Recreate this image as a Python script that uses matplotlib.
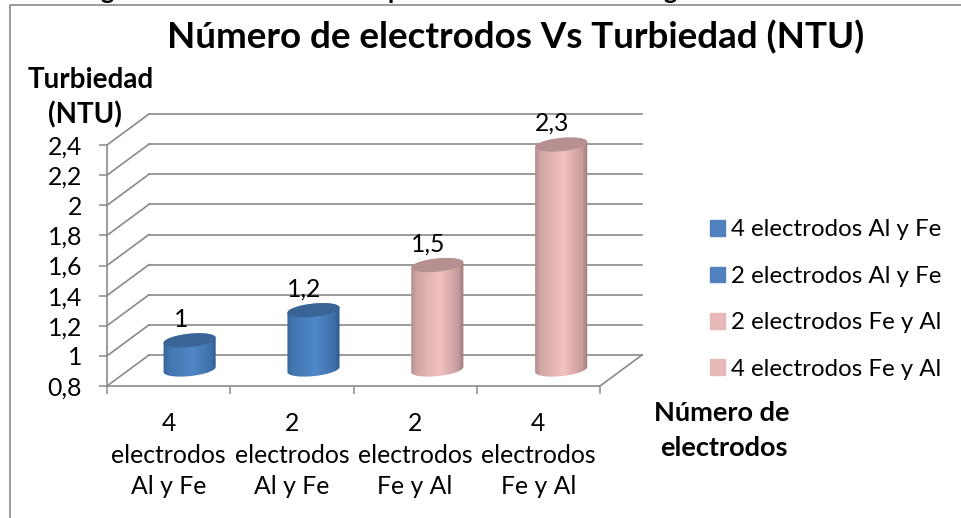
import numpy as np
import matplotlib
matplotlib.use('Agg')
import matplotlib.pyplot as plt
from matplotlib.patches import Polygon, Patch
from matplotlib.path import Path
from matplotlib.transforms import Affine2D, IdentityTransform

categories = ['4\nelectrodos\nAl y Fe', '2\nelectrodos\nAl y Fe', '2\nelectrodos\nFe y Al', '4\nelectrodos\nFe y Al']
series_names = ['4 electrodos Al y Fe', '2 electrodos Al y Fe', '2 electrodos Fe y Al', '4 electrodos Fe y Al']
values = [1, 1.2, 1.5, 2.3]
value_labels = ['1', '1,2', '1,5', '2,3']
y_ticks = [0.8, 1.0, 1.2, 1.4, 1.6, 1.8, 2.0, 2.2, 2.4]
y_tick_labels = ['0,8', '1', '1,2', '1,4', '1,6', '1,8', '2', '2,2', '2,4']

W, H = 961, 518
GREY = '#8a8a8a'
BLUE = ['#2f5c92', '#5087c6', '#2f5c92']
PINK = ['#a07c7c', '#f3c2c1', '#a07c7c']
DX, DY = 42, 31  # depth of the fake 3d box in pixels

plt.rcParams['font.family'] = ['Lato', 'DejaVu Sans']

fig = plt.figure(figsize=(W / 100, H / 100), dpi=100)
ax = fig.add_axes([107 / W, (H - 386) / H, 493 / W, 241 / H])
ax.set_xlim(0, 4)
ax.set_ylim(0.8, 2.4)
ax.patch.set_alpha(0)


def ellipse(cx, cy, t):
    a, b, th = 26.2, 6.6, np.radians(6)
    x = cx + a * np.cos(t) * np.cos(th) - b * np.sin(t) * np.sin(th)
    y = cy + a * np.cos(t) * np.sin(th) + b * np.sin(t) * np.cos(th)
    return np.column_stack([x, y])


def cylinder(pos, value, cols, top_col):
    cx, y0 = ax.transData.transform((pos, 0.8)) + np.array([DX / 2, DY / 2])
    _, y1 = ax.transData.transform((pos, value)) + np.array([DX / 2, DY / 2])
    cx += (pos - 0.5) * 0.6  # perspective pushes the bars out a little
    y0 += 1
    lower = ellipse(cx, y0, np.linspace(np.pi, 2 * np.pi, 40))
    upper = ellipse(cx, y1, np.linspace(0, np.pi, 40))
    outline = np.vstack([lower, upper])
    # shaded body: a horizontal gradient clipped to the cylinder outline
    inv = ax.transData.inverted()
    (x_a, y_a), (x_b, y_b) = inv.transform([(cx - 27, y0 - 10), (cx + 27, y1 + 10)])
    rgb = np.array([matplotlib.colors.to_rgb(c) for c in cols])
    s = np.linspace(0, 1, 54)
    shade = np.interp(s, [0, 0.12, 0.55, 0.9, 1], [0.2, 0.6, 1, 0.45, 0.0])
    grad = np.array([rgb[0] + (rgb[1] - rgb[0]) * v for v in shade])[None, :, :]
    im = ax.imshow(grad, extent=(x_a, x_b, y_a, y_b), aspect='auto', zorder=4, interpolation='bilinear')
    im.set_clip_path(Path(outline), transform=IdentityTransform())
    im.set_clip_box(fig.bbox)
    top = Polygon(ellipse(cx, y1, np.linspace(0, 2 * np.pi, 80)), closed=True, facecolor=top_col,
                  edgecolor='none', transform=IdentityTransform(), zorder=5, clip_on=False)
    ax.add_patch(top)
    return cx, y1


# gridlines on the back wall and the diagonals on the side wall
back = ax.transData + Affine2D().translate(DX, DY)
for v in y_ticks:
    ax.plot([0, 4], [v, v], color=GREY, lw=1.2, transform=back, clip_on=False, zorder=1)
    p = ax.transData.transform((0, v))
    ax.plot([p[0], p[0] + DX], [p[1], p[1] + DY], color=GREY, lw=1.2,
            transform=IdentityTransform(), clip_on=False, zorder=1)
p = ax.transData.transform((4, 0.8))
ax.plot([p[0], p[0] + DX], [p[1], p[1] + DY], color=GREY, lw=1.2,
        transform=IdentityTransform(), clip_on=False, zorder=1)

ax.set_yticks(y_ticks)
ax.set_yticklabels(y_tick_labels, fontsize=17.8)
ax.set_xticks(range(5))
ax.set_xticklabels([])
ax.set_xticks(np.arange(4) + 0.5, labels=categories, minor=True, fontsize=17.8, linespacing=1.43)
ax.tick_params(axis='x', which='major', length=6, width=1.1, color=GREY)
ax.tick_params(axis='x', which='minor', length=0, pad=19)
ax.tick_params(axis='y', length=6, width=1.1, color=GREY, pad=12)
for side in ['top', 'right']:
    ax.spines[side].set_visible(False)
for side in ['left', 'bottom']:
    ax.spines[side].set_color(GREY)
    ax.spines[side].set_linewidth(1.2)

for i, val in enumerate(values):
    if i < 2:
        cx, y1 = cylinder(i + 0.5, val, BLUE, '#3a6496')
    else:
        cx, y1 = cylinder(i + 0.5, val, PINK, '#b69090')
    ax.annotate(value_labels[i], (cx - 9, y1 + 21), xycoords='figure pixels', ha='center', va='center',
                fontsize=17.8, zorder=6)
ax.set_xlim(0, 4)
ax.set_ylim(0.8, 2.4)

handles = [Patch(color='#4f81bd' if i < 2 else '#e6b9b8', label=n) for i, n in enumerate(series_names)]
fig.legend(handles=handles, loc='center left', bbox_to_anchor=(710 / W, (H - 299.5) / H), frameon=False,
           fontsize=17.3, handlelength=0.62, handleheight=0.62, handletextpad=0.25, labelspacing=1.06,
           borderpad=0, borderaxespad=0)

fig.text(516 / W, 1 - 37 / H, 'Número de electrodos Vs Turbiedad (NTU)', fontsize=26.5, fontweight='bold',
         ha='center', va='center')
fig.text(91 / W, 1 - 80 / H, 'Turbiedad', fontsize=20, fontweight='bold', ha='center', va='center')
fig.text(85 / W, 1 - 115 / H, '(NTU)', fontsize=20, fontweight='bold', ha='center', va='center')
fig.text(722 / W, 1 - 413 / H, 'Número de', fontsize=19.5, fontweight='bold', ha='center', va='center')
fig.text(724 / W, 1 - 448 / H, 'electrodos', fontsize=19.5, fontweight='bold', ha='center', va='center')

# frame of the pasted chart, with the caption above it cut off by the crop
fig.add_artist(plt.Line2D([9.5 / W, 9.5 / W, 1], [0, 1 - 4.5 / H, 1 - 4.5 / H], color=GREY, lw=1.2))
for x_pos, ch in zip([107, 395, 670], ['g', 'p', 'g']):
    fig.text(x_pos / W, 1 + 1 / H, ch, fontsize=18, fontweight='bold', ha='center', va='baseline')

fig.savefig('out.png', dpi=100)
